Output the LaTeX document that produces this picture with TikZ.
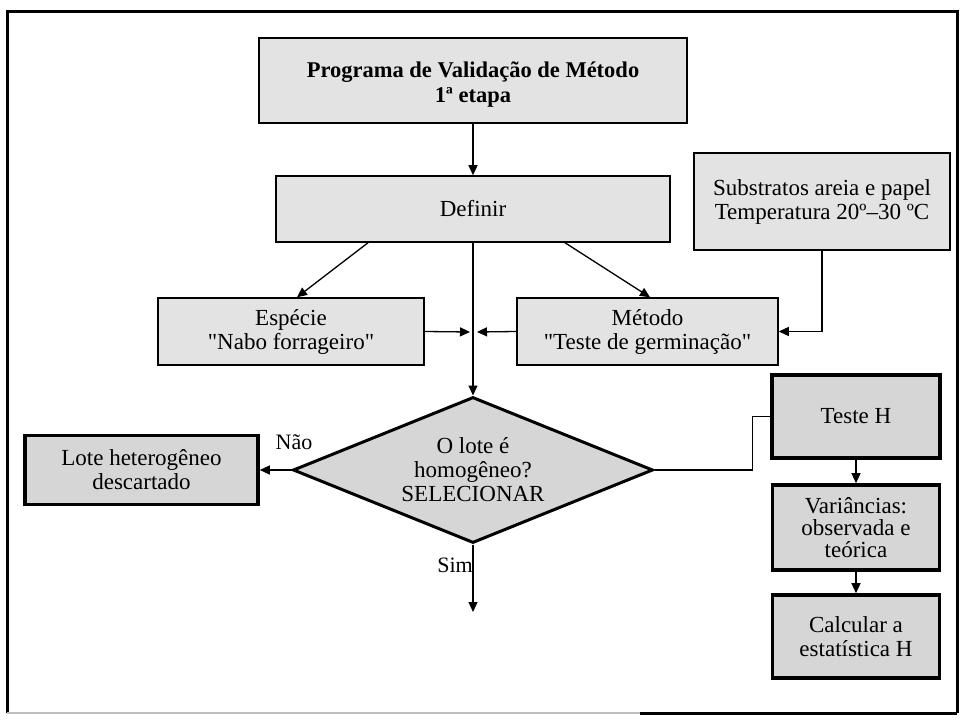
\documentclass[tikz,border=0pt]{standalone}
\usepackage{fontspec}
\setmainfont{Liberation Serif}
\usetikzlibrary{arrows.meta,shapes.geometric}

\definecolor{boxfill}{gray}{0.89}
\definecolor{boxfilldark}{gray}{0.84}

\begin{document}
\begin{tikzpicture}[x=1pt,y=-1pt,
  txt/.style={font=\fontsize{23}{24}\selectfont, align=center, text=black},
  plainbox/.style={txt, draw, line width=1.5pt, fill=boxfill, inner sep=0pt},
  heavybox/.style={txt, draw, line width=3.6pt, fill=boxfilldark, inner sep=0pt},
  decision/.style={txt, diamond, draw, line width=3pt, fill=boxfilldark, inner sep=0pt,
                   minimum width=360pt, minimum height=146pt, aspect=2.47},
  link/.style={line width=1.3pt},
  arr/.style={link, -{Triangle[length=10pt,width=9pt]}},
  tag/.style={font=\fontsize{22}{24}\selectfont, inner sep=0pt}
]
\useasboundingbox (0,0) rectangle (961,722);

% outer frame
\draw[line width=3pt] (7,713) -- (7,12) -- (957,12) -- (957,713);
\draw[line width=3pt] (957,713) -- (640,713);
\draw[line width=2pt, black!25] (640,713) -- (7,713);

% boxes
\node[plainbox, minimum width=428pt, minimum height=85pt, font=\bfseries\fontsize{22.5}{25}\selectfont]
  (title) at (473,80.5) {\rule{0pt}{24pt}Programa de Validação de Método\\1ª etapa};
\node[plainbox, minimum width=394pt, minimum height=66pt] (definir) at (473,209) {Definir};
\node[plainbox, minimum width=256pt, minimum height=97pt] (subs) at (822,201.5)
  {Substratos areia e papel\\Temperatura 20º–30 ºC};
\node[plainbox, minimum width=266pt, minimum height=67pt] (especie) at (291,331.5)
  {Espécie\\\textquotedbl Nabo forrageiro\textquotedbl};
\node[plainbox, minimum width=261pt, minimum height=67pt] (metodo) at (647.5,331.5)
  {Método\\\textquotedbl Teste de germinação\textquotedbl};
\node[decision] (dia) at (473,470) {O lote é\\homogêneo?\\SELECIONAR};
\node[heavybox, minimum width=233pt, minimum height=69pt] (lote) at (141.5,470)
  {Lote heterogêneo\\descartado};
\node[heavybox, minimum width=168pt, minimum height=83pt] (testeH) at (856,416.5) {Teste H};
\node[heavybox, minimum width=167pt, minimum height=85pt, font=\fontsize{23}{22}\selectfont]
  (varian) at (856,527.5) {Variâncias:\\observada e\\teórica};
\node[heavybox, minimum width=167pt, minimum height=83pt] (calc) at (856,636.5)
  {Calcular a\\estatística H};

% junction points
\coordinate (mid) at (473,332);
\coordinate (simend) at (473,612);

% connectors
\draw[arr] (title) -- (definir);
\draw[arr] ([xshift=-105pt]definir.south) -- ([xshift=6pt]especie.north);
\draw[arr] ([xshift=92pt]definir.south) -- ([xshift=2.5pt]metodo.north);
\draw[arr] (definir.south) -- (dia.north);
\draw[arr] (especie.east) -- ([xshift=-3pt]mid);
\draw[arr] (metodo.west) -- ([xshift=4pt]mid);
\draw[arr] (subs.south) |- (metodo.east);
\draw[arr] (dia.west) -- (lote.east);
\draw[arr] (dia.south) -- (simend);
\draw[link] (dia.east) -| ([xshift=-18pt]testeH.west) -- (testeH.west);
\draw[arr] (testeH) -- (varian);
\draw[arr] (varian) -- (calc);

% branch labels
\node[tag] (nao) at (294,442) {Não};
\node[tag, anchor=east] (sim) at (473,565) {Sim};
\end{tikzpicture}
\end{document}
